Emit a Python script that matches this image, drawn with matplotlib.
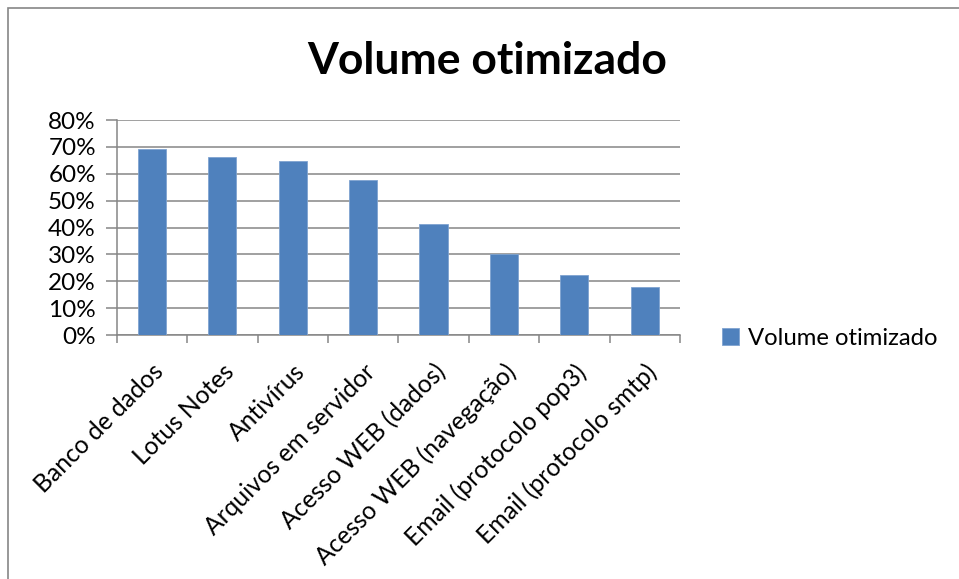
import matplotlib
matplotlib.use('Agg')
from matplotlib import pyplot as plt
from matplotlib.patches import Rectangle

# dados do grafico
categorias = ['Banco de dados', 'Lotus Notes', 'Antivírus', 'Arquivos em servidor',
              'Acesso WEB (dados)', 'Acesso WEB (navegação)', 'Email (protocolo pop3)',
              'Email (protocolo smtp)']
volume = [0.692, 0.663, 0.647, 0.575, 0.414, 0.301, 0.224, 0.180]
yticks = [0, 0.1, 0.2, 0.3, 0.4, 0.5, 0.6, 0.7, 0.8]
ytick_labels = ['0%', '10%', '20%', '30%', '40%', '50%', '60%', '70%', '80%']

plt.rcParams['font.family'] = ['Lato', 'DejaVu Sans']

fig = plt.figure(figsize=(9.59, 5.79), dpi=100)
ax = fig.add_axes([0.1217, 0.4214, 0.5874, 0.3713])

xpos = list(range(len(categorias)))
ax.bar(xpos, volume, width=0.4, color='#4F81BD', edgecolor='#7FA3D0', linewidth=0.6,
       label='Volume otimizado', zorder=3)

ax.set_xlim(-0.5, len(categorias) - 0.5)
ax.set_ylim(0, 0.8)
ax.set_yticks(yticks)
ax.set_yticklabels(ytick_labels, fontsize=17.5)
ax.yaxis.grid(True, color='#868686', linewidth=1.1, zorder=0)
ax.tick_params(axis='y', length=8, width=1.1, color='#868686', pad=7)

# rotulos das categorias
ax.set_xticks(xpos)
ax.set_xticklabels(categorias, rotation=45, ha='right', rotation_mode='anchor', fontsize=17.7)
ax.tick_params(axis='x', which='major', length=0, pad=18)
ax.set_xticks([x - 0.5 for x in xpos] + [len(categorias) - 0.5], minor=True)
ax.tick_params(axis='x', which='minor', length=6, width=1.1, color='#868686')

for s in ['top', 'right']:
    ax.spines[s].set_visible(False)
ax.spines['left'].set_color('#868686')
ax.spines['bottom'].set_color('#868686')
ax.spines['left'].set_linewidth(1.1)
ax.spines['bottom'].set_linewidth(1.1)

fig.text(0.508, 0.895, 'Volume otimizado', ha='center', va='center', fontsize=32, fontweight='bold')

fig.legend(loc='center left', bbox_to_anchor=(0.73, 0.416), frameon=False, fontsize=17.2,
           handlelength=0.75, handleheight=0.75, handletextpad=0.35)

# borda do grafico
fig.patches.append(Rectangle((8 / 959, -0.05), 1.2, 1 - 8 / 579 + 0.05, transform=fig.transFigure,
                             fill=False, edgecolor='#868686', linewidth=1.2))

plt.savefig('out.png', dpi=100)
